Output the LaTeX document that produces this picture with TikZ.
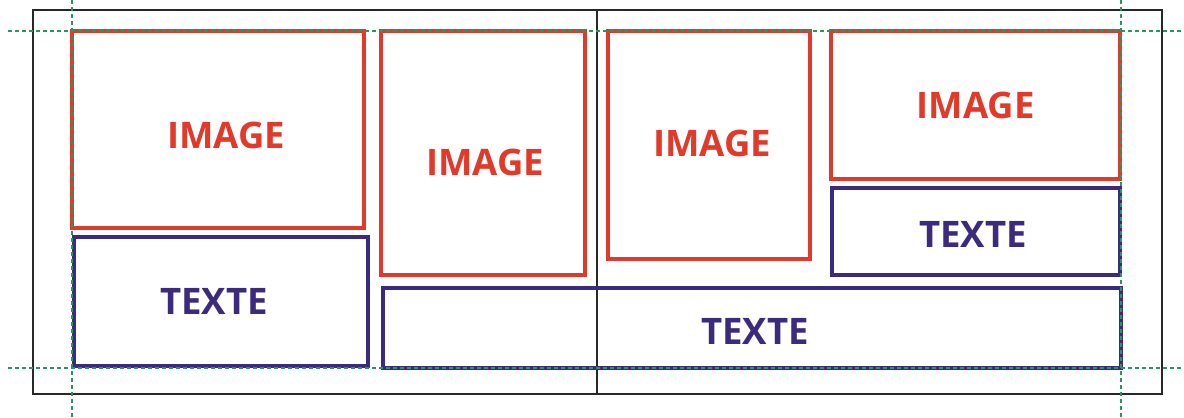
\documentclass[tikz,border=0pt]{standalone}
\usepackage{fontspec}
\setsansfont{Open Sans}
\newlength\pxu
\setlength\pxu{0.02cm}
\definecolor{imgred}{RGB}{226,58,42}
\definecolor{txtblue}{RGB}{60,42,125}
\definecolor{guidegreen}{RGB}{40,150,100}
\definecolor{framegray}{RGB}{40,40,40}

\begin{document}
\begin{tikzpicture}[x=0.02cm, y=-0.02cm,
  box/.style={draw, line width=4.8\pxu, inner sep=0pt, align=center,
    font=\sffamily\bfseries\fontsize{20.8}{24}\selectfont},
  imgbox/.style={box, draw=imgred, text=imgred},
  txtbox/.style={box, draw=txtblue, text=txtblue},
  guide/.style={draw=guidegreen, line width=1.2\pxu, dash pattern=on 4\pxu off 3\pxu},
  frame/.style={draw=framegray, line width=1.4\pxu}]
\useasboundingbox (0,0) rectangle (1184,417);
% page frame and fold
\draw[frame] (33,10) rectangle (1162,394);
\draw[frame] (597,10) -- (597,394);
% left page
\node[imgbox, minimum width=292\pxu, minimum height=197\pxu] (img1) at (218,129.5) {\raisebox{-6\pxu}[\height][\depth]{\hspace*{16\pxu}IMAGE}};
\node[txtbox, minimum width=294\pxu, minimum height=129\pxu] (txt1) at (221,301.5) {TEXTE\hspace*{14\pxu}};
\node[imgbox, minimum width=204\pxu, minimum height=244\pxu] (img2) at (483,153) {\raisebox{-9\pxu}[\height][\depth]{\hspace*{4\pxu}IMAGE}};
% right page
\node[imgbox, minimum width=202\pxu, minimum height=228\pxu] (img3) at (709,145) {\raisebox{2\pxu}[\height][\depth]{\hspace*{6\pxu}IMAGE}};
\node[imgbox, minimum width=289\pxu, minimum height=148\pxu] (img4) at (975.5,105) {IMAGE};
\node[txtbox, minimum width=288\pxu, minimum height=87\pxu] (txt2) at (976,231.5) {\raisebox{-3\pxu}[\height][\depth]{TEXTE}\hspace*{6\pxu}};
\node[txtbox, minimum width=738\pxu, minimum height=80\pxu] (txt3) at (752,328) {\raisebox{-3\pxu}[\height][\depth]{\hspace*{6\pxu}TEXTE}};
% margin guides
\draw[guide] (8,31) -- (1184,31);
\draw[guide] (8,368) -- (1184,368);
\draw[guide] (72,0) -- (72,417);
\draw[guide] (1121,0) -- (1121,417);
\end{tikzpicture}
\end{document}
